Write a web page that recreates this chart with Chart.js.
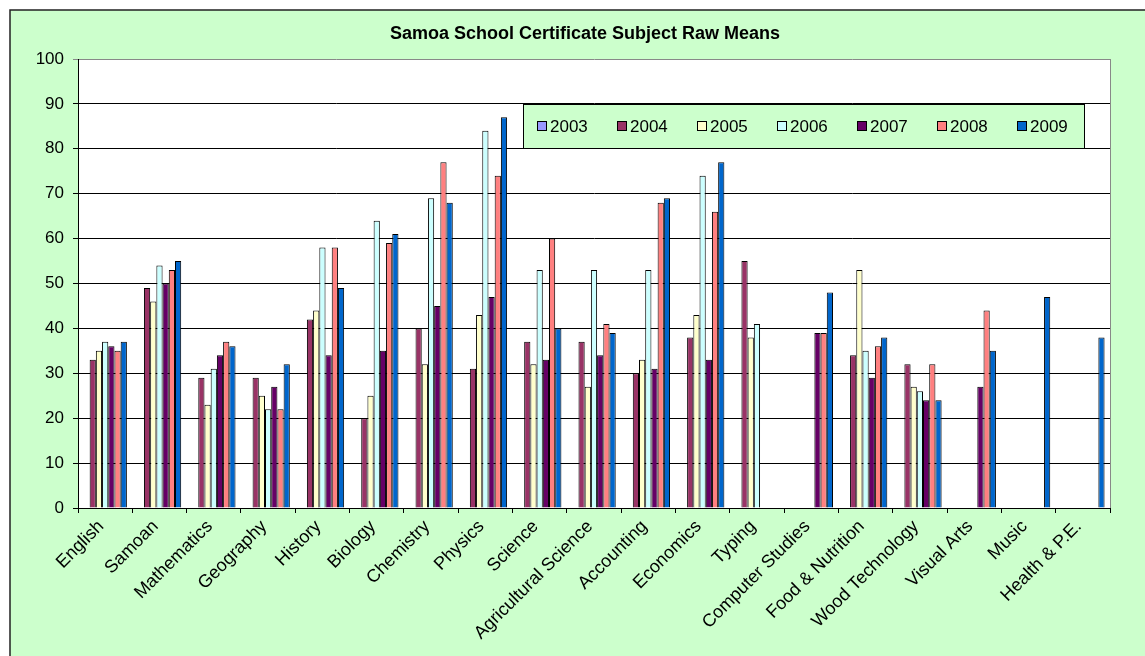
<!DOCTYPE html>
<html>
<head>
<meta charset="utf-8">
<title>Samoa School Certificate Subject Raw Means</title>
<script src="https://cdn.jsdelivr.net/npm/chart.js@4"></script>
<style>
  body { margin: 0; background: #fff; }
  #wrap { width: 1145px; height: 656px; }
</style>
</head>
<body>
<div id="wrap"><canvas id="myChart" width="1145" height="656"></canvas></div>
<script>
// subjects and yearly raw means
var subjects = ['English', 'Samoan', 'Mathematics', 'Geography', 'History', 'Biology', 'Chemistry',
  'Physics', 'Science', 'Agricultural Science', 'Accounting', 'Economics', 'Typing',
  'Computer Studies', 'Food & Nutrition', 'Wood Technology', 'Visual Arts', 'Music', 'Health & P.E.'];

var y2003 = [null, null, null, null, null, null, null, null, null, null, null, null, null, null, null, null, null, null, null];
var y2004 = [33, 49, 29, 29, 42, 20, 40, 31, 37, 37, 30, 38, 55, null, 34, 32, null, null, null];
var y2005 = [35, 46, 23, 25, 44, 25, 32, 43, 32, 27, 33, 43, 38, null, 53, 27, null, null, null];
var y2006 = [37, 54, 31, 22, 58, 64, 69, 84, 53, 53, 53, 74, 41, null, 35, 26, null, null, null];
var y2007 = [36, 50, 34, 27, 34, 35, 45, 47, 33, 34, 31, 33, null, 39, 29, 24, 27, null, null];
var y2008 = [35, 53, 37, 22, 58, 59, 77, 74, 60, 41, 68, 66, null, 39, 36, 32, 44, null, null];
var y2009 = [37, 55, 36, 32, 49, 61, 68, 87, 40, 39, 69, 77, null, 48, 38, 24, 35, 47, 38];

var years = ['2003', '2004', '2005', '2006', '2007', '2008', '2009'];
var series = [y2003, y2004, y2005, y2006, y2007, y2008, y2009];
var colors = ['#9999FF', '#993366', '#FFFFCC', '#CCFFFF', '#660066', '#FF8080', '#0066CC'];

var yTicks = [0, 10, 20, 30, 40, 50, 60, 70, 80, 90, 100];
var chartTitle = 'Samoa School Certificate Subject Raw Means';

Chart.defaults.font.family = "Arial, 'Liberation Sans', sans-serif";
Chart.defaults.color = '#000';

// green chart area + white plot area
var background = {
  id: 'background',
  beforeDraw: function (chart) {
    var c = chart.ctx, a = chart.chartArea;
    c.save();
    c.fillStyle = '#fff';
    c.fillRect(0, 0, chart.width, chart.height);
    c.fillStyle = '#CCFFCC';
    c.fillRect(10, 10, chart.width, chart.height);
    c.strokeStyle = '#222';
    c.lineWidth = 1.5;
    c.beginPath();
    c.moveTo(10, chart.height + 2);
    c.lineTo(10, 10);
    c.lineTo(chart.width + 2, 10);
    c.stroke();
    c.fillStyle = '#fff';
    c.fillRect(a.left, a.top, a.right - a.left, a.bottom - a.top);
    c.strokeStyle = '#888';
    c.lineWidth = 1;
    c.beginPath();
    c.moveTo(Math.round(a.right) + 0.5, a.top);
    c.lineTo(Math.round(a.right) + 0.5, a.bottom);
    c.stroke();
    // title, centred over the whole green area like Excel does
    c.fillStyle = '#000';
    c.font = 'bold 18px Arial, "Liberation Sans", sans-serif';
    c.textAlign = 'center';
    c.textBaseline = 'middle';
    c.fillText(chartTitle, 585, 34);
    c.restore();
  }
};

// legend box sitting inside the plot, like the Excel one
var boxLegend = {
  id: 'boxLegend',
  afterDraw: function (chart) {
    var c = chart.ctx;
    var x0 = 523, y0 = 104, w = 561, h = 44;
    c.save();
    c.fillStyle = '#CCFFCC';
    c.fillRect(x0, y0, w, h);
    c.strokeStyle = '#000';
    c.lineWidth = 1;
    c.strokeRect(x0 + 0.5, y0 + 0.5, w, h);
    c.font = '17px Arial, "Liberation Sans", sans-serif';
    c.textBaseline = 'middle';
    chart.data.datasets.forEach(function (ds, i) {
      var sx = x0 + 14 + i * 80;
      var cy = y0 + h / 2;
      c.fillStyle = ds.backgroundColor;
      c.fillRect(sx + 0.5, cy - 4.5, 9, 9);
      c.strokeStyle = '#000';
      c.strokeRect(sx + 0.5, cy - 4.5, 9, 9);
      c.fillStyle = '#000';
      c.fillText(ds.label, sx + 13, cy + 1);
    });
    c.restore();
  }
};

var ctx = document.getElementById('myChart').getContext('2d');
var myChart = new Chart(ctx, {
  type: 'bar',
  data: {
    labels: subjects,
    datasets: years.map(function (y, i) {
      return {
        label: y,
        data: series[i],
        backgroundColor: colors[i],
        borderColor: '#000',
        borderWidth: 1,
        barPercentage: 1.0,
        categoryPercentage: 0.8
      };
    })
  },
  options: {
    responsive: false,
    animation: false,
    layout: { padding: { left: 10, right: 35, top: 59, bottom: 0 } },
    plugins: {
      legend: { display: false },
      tooltip: { enabled: false },
      title: { display: false }
    },
    scales: {
      x: {
        offset: true,
        grid: { drawOnChartArea: false, drawTicks: true, tickLength: 5, color: '#000', offset: true },
        border: { color: '#000', width: 1 },
        ticks: {
          autoSkip: false,
          minRotation: 45,
          maxRotation: 45,
          font: { size: 18 },
          color: '#000',
          padding: 3,
          labelOffset: -4
        },
        afterFit: function (scale) { scale.height = 148; }
      },
      y: {
        min: 0,
        max: 100,
        afterBuildTicks: function (scale) {
          scale.ticks = yTicks.map(function (v) { return { value: v }; });
        },
        grid: {
          color: function (c) { return c.tick && c.tick.value === 100 ? '#888' : '#000'; },
          tickLength: 5,
          drawTicks: true
        },
        border: { color: '#000', width: 1 },
        ticks: { font: { size: 17 }, color: '#000', padding: 9 },
        afterFit: function (scale) { scale.width = 68; }
      }
    }
  },
  plugins: [background, boxLegend]
});
</script>
</body>
</html>
